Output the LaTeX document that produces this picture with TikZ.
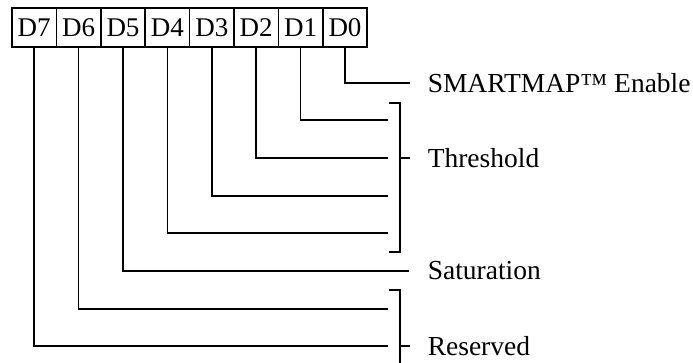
\documentclass[tikz,border=0pt]{standalone}
\usepackage{fontspec}
\setmainfont{Liberation Serif}
\usetikzlibrary{positioning}

\begin{document}
\begin{tikzpicture}[x=1pt, y=-1pt, line width=1.5pt,
    bitbox/.style={draw, minimum width=44.4pt, minimum height=39pt, inner sep=0pt, outer sep=0pt, font=\fontsize{27}{29}\selectfont},
    fieldlabel/.style={anchor=west, inner sep=0pt, font=\fontsize{27.5}{29}\selectfont}]
    \useasboundingbox (0,0) rectangle (693,362);

    % Register bits
    \node[bitbox] (d7) at (34.2,27.5) {D7};
    \foreach \b [evaluate=\b as \prev using int(\b+1)] in {6,...,0}
        \node[bitbox, right=0pt of d\prev] (d\b) {D\b};

    % Field names
    \node[fieldlabel] (enable) at (427,83) {SMARTMAP™ Enable};
    \node[fieldlabel] (threshold) at (427,158) {Threshold};
    \node[fieldlabel] (saturation) at (427,271) {Saturation};
    \node[fieldlabel] (reserved) at (427,346) {Reserved};

    % Leads from the bits
    \coordinate (e0) at (410,83);
    \draw (d0.south) |- (e0);
    \foreach \b/\y in {1/120, 2/158, 3/196, 4/233} {
        \coordinate (t\b) at (388,\y);
        \draw (d\b.south) |- (t\b);
    }
    \coordinate (s5) at (409,271);
    \draw (d5.south) |- (s5);
    \foreach \b/\y in {6/309, 7/346} {
        \coordinate (r\b) at (388,\y);
        \draw (d\b.south) |- (r\b);
    }

    % Brackets
    \draw (389,103) -- (400,103) -- (400,252) -- (389,252);
    \draw (400,158) -- (410,158);
    \draw (389,290) -- (400,290) -- (400,372);
    \draw (400,346) -- (410,346);
\end{tikzpicture}
\end{document}
